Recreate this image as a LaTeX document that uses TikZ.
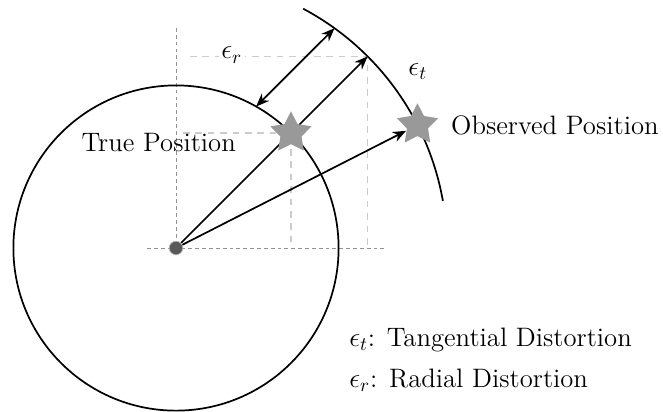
\documentclass[tikz,border=0pt]{standalone}
\usetikzlibrary{arrows.meta,shapes.geometric,backgrounds}
\begin{document}
\begin{tikzpicture}[
  font=\fontsize{14}{17}\selectfont,
  curve/.style={line width=0.9pt},
  arr/.style={line width=0.9pt,-{Stealth[length=7pt,width=5.5pt]}},
  darr/.style={line width=0.9pt,{Stealth[length=7pt,width=5.5pt]}-{Stealth[length=7pt,width=5.5pt]}},
  guide/.style={gray!40,line width=0.8pt,dash pattern=on 3.5pt off 3pt},
  axisline/.style={gray!85,line width=0.5pt,dash pattern=on 2pt off 1.6pt},
  posstar/.style={star,star points=5,star point ratio=1.95,fill=gray!80,minimum size=0.8cm,inner sep=0pt},
  dotnode/.style={circle,fill=black!65,draw=gray!60,line width=0.4pt,minimum size=0.25cm,inner sep=0pt},
]
\useasboundingbox (-3.247,-3.007) rectangle (8.985,4.576);
\node[dotnode] (c) at (0,0) {};
\node[posstar] (s1) at (45:3) {};
\node[posstar] (s2) at (27:5) {};
\coordinate (p45) at (45:5);
\coordinate (ra) at (1.478,2.610);
\coordinate (rb) at (2.925,4.056);
\begin{pgfonlayer}{background}
  % guides
  \draw[axisline] (0,4.06) -- (c.center);
  \draw[axisline] (-0.53,0) -- (3.89,0);
  \draw[guide] (0.26,3.536) -- (3.536,3.536) -- (3.536,0);
  \draw[guide] (0.13,2.121) -- (2.121,2.121) -- (2.121,0);
  % circles
  \draw[curve] (c.center) circle (3);
  \draw[curve] (10:5) arc (10:62:5);
  % arrows
  \draw[arr] (c) -- (p45);
  \draw[arr] (c) -- (s2);
  \draw[darr] (ra) -- (rb);
\end{pgfonlayer}
\node[fill=white,inner sep=1.5pt] (er) at (1.03,3.56) {$\epsilon_r$};
\node (et) at (4.46,3.25) {$\epsilon_t$};
\node (tp) at (-0.32,1.94) {True Position};
\node[anchor=west,inner sep=0pt] (op) at (5.07,2.27) {Observed Position};
\node[anchor=west,inner sep=0pt] (l1) at (3.19,-1.70) {$\epsilon_t$: Tangential Distortion};
\node[anchor=west,inner sep=0pt] (l2) at (3.19,-2.44) {$\epsilon_r$: Radial Distortion};
\end{tikzpicture}
\end{document}
